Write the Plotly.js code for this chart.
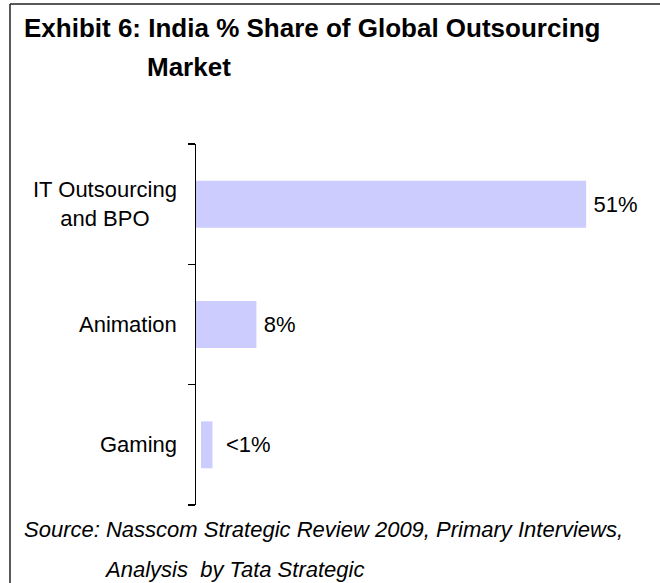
<!DOCTYPE html>
<html>
<head>
<meta charset="utf-8">
<script src="https://cdn.plot.ly/plotly-3.0.1.min.js"></script>
<style>html,body{margin:0;padding:0;background:#fff;}#chart{width:660px;height:583px;}</style>
</head>
<body>
<div id="chart"></div>
<script>
// ---- data ----
var categories = ["IT Outsourcing<br>and BPO", "Animation", "Gaming"];
var shares = [51, 7.9, 1.5];
var barBase = [0, 0, 0.65];
var valueLabels = ["\u200951%", "\u20098%", " \u2009<1%"];
var titleLine1 = "Exhibit 6: India % Share of Global Outsourcing";
var titleLine2 = "Market";
var sourceLine1 = "Source: Nasscom Strategic Review 2009, Primary Interviews,";
var sourceLine2 = "Analysis  by Tata Strategic";

// ---- layout geometry ----
var W = 660, H = 583;
var M = {l: 196, r: 5, t: 144, b: 78};
var PW = W - M.l - M.r, PH = H - M.t - M.b;
function px(x) { return (x - M.l) / PW; }
function py(y) { return (H - M.b - y) / PH; }

var FONT = "Liberation Sans, Arial, Helvetica, sans-serif";

// category boundaries (between and around each category band)
var boundaries = categories.map(function (c, i) { return i - 0.5; }).concat([categories.length - 0.5]);

var trace = {
  type: "bar",
  orientation: "h",
  y: categories,
  x: shares,
  base: barBase,
  width: 0.39,
  marker: {color: "#CCCCFF", line: {width: 0}},
  text: valueLabels,
  textposition: "outside",
  textfont: {family: FONT, size: 22, color: "#000"},
  cliponaxis: false,
  hoverinfo: "skip"
};

var annotations = [
  {text: titleLine2, xref: "paper", yref: "paper", x: px(145), y: py(67), xanchor: "left", yanchor: "middle",
   showarrow: false, font: {family: FONT, size: 26, color: "#000", weight: "bold"}},
  {text: sourceLine1, xref: "paper", yref: "paper", x: px(22), y: py(529), xanchor: "left", yanchor: "middle",
   showarrow: false, font: {family: FONT, size: 22, color: "#000", style: "italic"}},
  {text: sourceLine2, xref: "paper", yref: "paper", x: px(102), y: py(569), xanchor: "left", yanchor: "middle",
   showarrow: false, font: {family: FONT, size: 22, color: "#000", style: "italic"}}
];
categories.forEach(function (c) {
  annotations.push({text: c, xref: "paper", yref: "y", x: px(179), y: c, xanchor: "right", yanchor: "middle",
    align: "center", showarrow: false, font: {family: FONT, size: 22, color: "#000"}});
});

var layout = {
  width: W, height: H,
  margin: M,
  paper_bgcolor: "#fff",
  plot_bgcolor: "#fff",
  showlegend: false,
  font: {family: FONT, color: "#000"},
  title: {
    text: titleLine1,
    xref: "container", yref: "container",
    x: 24 / W, xanchor: "left",
    y: 1 - 28 / H, yanchor: "middle",
    font: {family: FONT, size: 26, color: "#000", weight: "bold"}
  },
  xaxis: {range: [0, 60], visible: false, fixedrange: true},
  yaxis: {
    type: "category",
    categoryorder: "array",
    categoryarray: categories,
    range: [categories.length - 0.5, -0.5],
    tickmode: "array",
    tickvals: boundaries,
    ticktext: boundaries.map(function () { return ""; }),
    showticklabels: false,
    ticks: "outside", ticklen: 7, tickwidth: 1.5, tickcolor: "#000",
    showline: true, linecolor: "#000", linewidth: 1.5,
    showgrid: false, zeroline: false, fixedrange: true
  },
  bargap: 0.61,
  annotations: annotations,
  shapes: [
    {type: "line", xref: "paper", yref: "paper", x0: px(10), x1: px(10), y0: py(4), y1: py(H + 2),
     line: {color: "#222", width: 1.5}},
    {type: "line", xref: "paper", yref: "paper", x0: px(10), x1: px(W + 2), y0: py(4), y1: py(4),
     line: {color: "#222", width: 1.5}}
  ]
};

Plotly.newPlot("chart", [trace], layout, {displayModeBar: false, staticPlot: true});
</script>
</body>
</html>
